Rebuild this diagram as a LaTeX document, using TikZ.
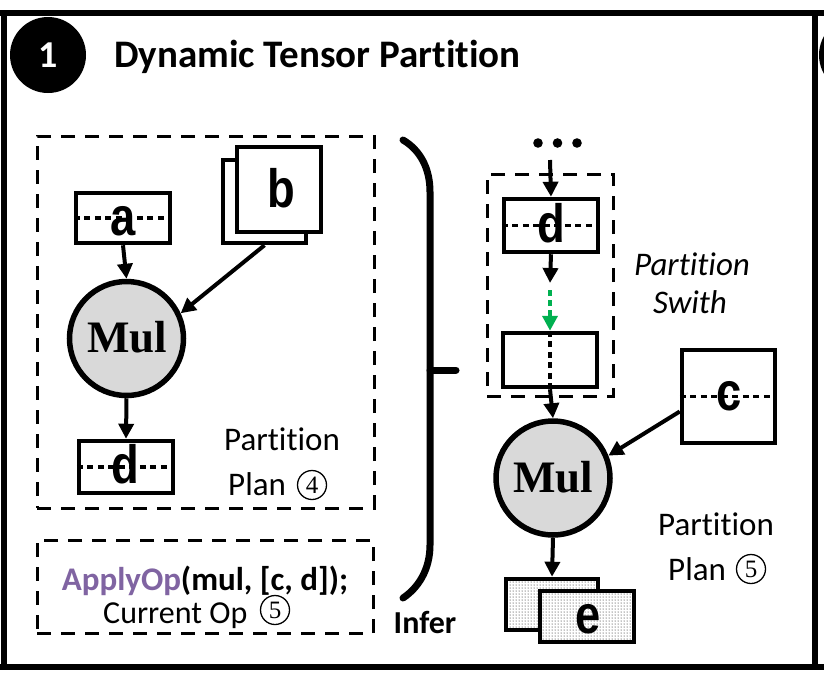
\documentclass[tikz,border=0pt]{standalone}
\usepackage{fontspec}
\usepackage{graphicx}
\setmainfont{Carlito}[Ligatures=NoCommon]
\newfontfamily\lsans{Liberation Sans}
\newfontfamily\lserif{Liberation Serif}
\usetikzlibrary{arrows.meta,patterns}
\definecolor{mulgray}{HTML}{D9D9D9}
\definecolor{oppurple}{HTML}{8064A2}
\definecolor{swgreen}{HTML}{00B050}
\newcommand\bigletter[1]{\scalebox{0.84}[1]{\lsans\bfseries\fontsize{54}{54}\selectfont #1}}
\begin{document}
\begin{tikzpicture}[x=1pt,y=-1pt,
  frame/.style={line width=6pt},
  tensor/.style={draw, line width=4.5pt, fill=white, inner sep=0pt},
  midline/.style={line width=3.5pt, dash pattern=on 6pt off 4.5pt},
  groupbox/.style={draw, line width=3pt, dash pattern=on 14pt off 10pt},
  opnode/.style={circle, draw, line width=5.5pt, fill=mulgray, minimum size=114pt, inner sep=0pt},
  arr/.style={line width=4pt, -{Triangle[length=15pt,width=15pt]}},
  greenarr/.style={line width=4pt, swgreen, dash pattern=on 6pt off 4pt, -{Triangle[length=15pt,width=15pt]}},
  plaintext/.style={font=\fontsize{33}{33}\selectfont, inner sep=0pt, anchor=base},
  lettertext/.style={inner sep=0pt, anchor=base},
  multext/.style={font=\lserif\bfseries\fontsize{45}{45}\selectfont, inner sep=0pt, anchor=base},
  circnum/.style={circle, draw, line width=1.3pt, minimum size=29pt, inner sep=0pt, font=\lserif\fontsize{25}{25}\selectfont}
]
\useasboundingbox (0,0) rectangle (824,678);
\fill[white] (0,0) rectangle (824,678);

% frame
\draw[frame] (0,13) -- (824,13);
\draw[frame] (0,667) -- (824,667);
\draw[frame] (4,13) -- (4,667);
\draw[frame] (815,13) -- (815,667);
\fill[black] (857,55) circle (38);

% title
\node[circle, fill=black, minimum size=76pt, inner sep=0pt] (num) at (48,55) {};
\node[text=white, font=\bfseries\fontsize{38}{38}\selectfont, inner sep=0pt] at (num) {1};
\node[font=\bfseries\fontsize{39}{39}\selectfont, inner sep=0pt, anchor=base west] (title) at (114,67) {Dynamic Tensor Partition};

% left group
\node[groupbox, minimum width=337pt, minimum height=372pt, inner sep=0pt] (plan4) at (205.5,322) {};
\node[groupbox, minimum width=336pt, minimum height=93pt, inner sep=0pt] (curop) at (205,586.5) {};

% tensor a
\node[tensor, minimum width=94pt, minimum height=50pt] (a) at (123,218) {};
\draw[midline] (a.west) -- (a.east);
\node[lettertext] at (123,235) {\bigletter{a}};

% tensor b
\node[tensor, minimum width=83pt, minimum height=83pt] (bback) at (264.5,201.5) {};
\node[tensor, minimum width=84pt, minimum height=85pt] (b) at (279,189.5) {};
\node[lettertext] at (281,207) {\bigletter{b}};

% Mul 1
\node[opnode] (mul1) at (126.5,338.5) {};
\node[multext] at (127,352) {Mul};

% tensor d
\node[tensor, minimum width=94pt, minimum height=52pt] (d) at (126,467) {};
\draw[midline] (d.west) -- (d.east);
\node[lettertext] at (125,483) {\bigletter{d}};

\draw[arr] (a.south) -- (mul1.north);
\draw[arr] (bback.south) -- (mul1.25);
\draw[arr] (mul1.south) -- (d.north);

\node[plaintext, anchor=base west] (p4a) at (224,450) {Partition};
\node[plaintext, anchor=base west] (p4b) at (228,495) {Plan};
\node[circnum] (c4) at (312,485) {4};

\node[plaintext, font=\bfseries\fontsize{33}{33}\selectfont] (apply) at (205,590) {\textcolor{oppurple}{ApplyOp}(mul, [c, d]);};
\node[plaintext, anchor=base west, font=\fontsize{32}{32}\selectfont] (cur) at (103,623) {Current Op};
\node[circnum] (c5a) at (275,610) {5};

% brace
\draw[line width=7pt, line cap=round] (403,140) .. controls (420,150) and (430,168) .. (430,192) -- (430,545) .. controls (430,570) and (418,588) .. (403,598);
\draw[line width=7pt, line cap=round] (430,370) -- (456,370);
\node[plaintext, font=\bfseries\fontsize{32}{32}\selectfont] (infer) at (425,633) {Infer};

% right group
\fill (538,143) circle (4.8) (557.5,143) circle (4.8) (577,143) circle (4.8);
\coordinate (dotsend) at (550,160);
\node[groupbox, minimum width=126pt, minimum height=222pt, inner sep=0pt] (swbox) at (550,285) {};

\node[tensor, minimum width=94pt, minimum height=53pt] (d2) at (551,225.5) {};
\draw[midline] (d2.west) -- (d2.east);
\node[lettertext] at (551,242) {\bigletter{d}};

\node[tensor, minimum width=94pt, minimum height=54pt] (sw) at (550,360) {};
\draw[midline] (sw.north) -- (sw.south);

\coordinate (swmid) at (550,283);
\coordinate (swstart) at (550,290);
\draw[arr] (dotsend) -- (d2.north);
\draw[arr] (d2.south) -- (swmid);
\draw[greenarr] (swstart) -- (sw.north);

\node[plaintext, font=\itshape\fontsize{33}{33}\selectfont] (swa) at (692,275) {Partition};
\node[plaintext, font=\itshape\fontsize{33}{33}\selectfont] (swb) at (690,313) {Swith};

% tensor c
\node[tensor, minimum width=93pt, minimum height=93pt] (c) at (728.5,396.5) {};
\draw[midline] (c.west) -- (c.east);
\node[lettertext] at (729,410) {\bigletter{c}};

% Mul 2
\node[opnode] (mul2) at (553,478) {};
\node[multext] at (553,492) {Mul};

\draw[arr] (sw.south) -- (mul2.north);
\draw[arr] ([yshift=-15pt]c.west) -- (mul2.22);

% tensor e
\node[tensor, pattern=dots, pattern color=black, preaction={fill=white}, minimum width=92pt, minimum height=51pt] (eback) at (552,604.5) {};
\node[tensor, pattern=dots, pattern color=black, preaction={fill=white}, minimum width=94pt, minimum height=51pt] (e) at (587,616.5) {};
\node[lettertext] at (588,633) {\bigletter{e}};
\draw[arr] (mul2.south) -- (eback.north);

\node[plaintext, anchor=base west] (p5a) at (658,535) {Partition};
\node[plaintext, anchor=base west] (p5b) at (668,580) {Plan};
\node[circnum] (c5b) at (751,569) {5};
\end{tikzpicture}
\end{document}
